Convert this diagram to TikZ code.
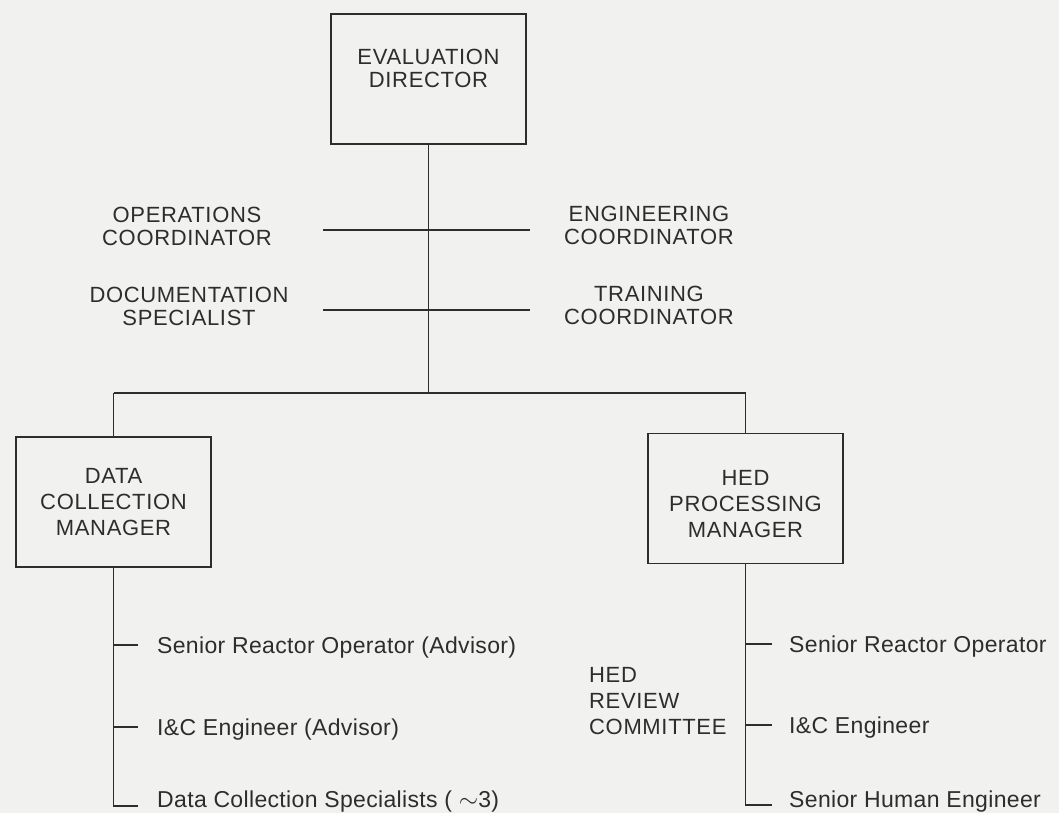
\documentclass[tikz,border=0pt]{standalone}
\usepackage{fontspec}
\setmainfont{Liberation Sans}
\newfontfamily\capfont[LetterSpace=3]{Liberation Sans}
\newfontfamily\itemfont[LetterSpace=1.5]{Liberation Sans}
\definecolor{bg}{RGB}{241,241,239}
\definecolor{ink}{RGB}{45,45,45}
\begin{document}
\begin{tikzpicture}[x=1pt,y=-1pt,
  line/.style={draw=ink, line width=1.8pt},
  box/.style={line, rectangle, minimum width=195pt, minimum height=130pt, inner sep=0pt},
  captxt/.style={text=ink, font=\capfont\fontsize{22}{23}\selectfont, align=center, inner sep=0pt},
  mgrtxt/.style={captxt, font=\capfont\fontsize{22}{26}\selectfont},
  itemtxt/.style={text=ink, font=\itemfont\fontsize{23}{26}\selectfont, anchor=base west, inner sep=0pt}]
\fill[bg] (0,0) rectangle (1059,813);
\useasboundingbox (0,0) rectangle (1059,813);

% top box
\node[box] (ed) at (428.5,79) {};
\node[captxt] (edt) at (428.5,68.5) {EVALUATION\\DIRECTOR};

% staff positions
\node[captxt] (ops) at (187,226) {OPERATIONS\\COORDINATOR};
\node[captxt] (eng) at (649,225) {ENGINEERING\\COORDINATOR};
\node[captxt] (doc) at (189,306) {DOCUMENTATION\\SPECIALIST};
\node[captxt] (trn) at (649,305) {TRAINING\\COORDINATOR};

\coordinate (b1l) at (323,230);
\coordinate (b1r) at (530,230);
\coordinate (b2l) at (323,310);
\coordinate (b2r) at (530,310);
\draw[line] (b1l) -- (b1r);
\draw[line] (b2l) -- (b2r);

% junction
\coordinate (j) at (428.5,393);
\coordinate (jl) at (113.5,393);
\coordinate (jr) at (745.5,393);
\draw[line] (ed.south) -- (j);
\draw[line] (jl) -- (jr);

% managers
\node[box, mgrtxt, draw=ink] (dcm) at (113.5,502) {DATA\\COLLECTION\\MANAGER};
\node[box] (hed) at (745.5,498.5) {};
\node[mgrtxt] (hedt) at (745.5,504) {HED\\PROCESSING\\MANAGER};
\draw[line] (jl) -- (dcm.north);
\draw[line] (jr) -- (hed.north);

% left subordinates
\coordinate (lt1) at (113.5,645);
\coordinate (lt2) at (113.5,727);
\coordinate (le1) at (138,645);
\coordinate (le2) at (138,727);
\coordinate (le3) at (138,806);
\draw[line] (dcm.south) |- (le3);
\draw[line] (lt1) -- (le1);
\draw[line] (lt2) -- (le2);
\node[itemtxt] (l1) at (157,653) {Senior Reactor Operator (Advisor)};
\node[itemtxt] (l2) at (157,735) {I\&C Engineer (Advisor)};
\node[itemtxt] (l3) at (157,807) {Data Collection Specialists ( $\sim$3)};

% right subordinates
\coordinate (rt1) at (745.5,644);
\coordinate (rt2) at (745.5,725);
\coordinate (re1) at (772,644);
\coordinate (re2) at (772,725);
\coordinate (re3) at (772,805);
\draw[line] (hed.south) |- (re3);
\draw[line] (rt1) -- (re1);
\draw[line] (rt2) -- (re2);
\node[itemtxt] (r1) at (789,652) {Senior Reactor Operator};
\node[itemtxt] (r2) at (789,733) {I\&C Engineer};
\node[itemtxt] (r3) at (789,807) {Senior Human Engineer};

\node[mgrtxt, align=left, anchor=west] (rev) at (589,701) {HED\\REVIEW\\COMMITTEE};
\end{tikzpicture}
\end{document}
